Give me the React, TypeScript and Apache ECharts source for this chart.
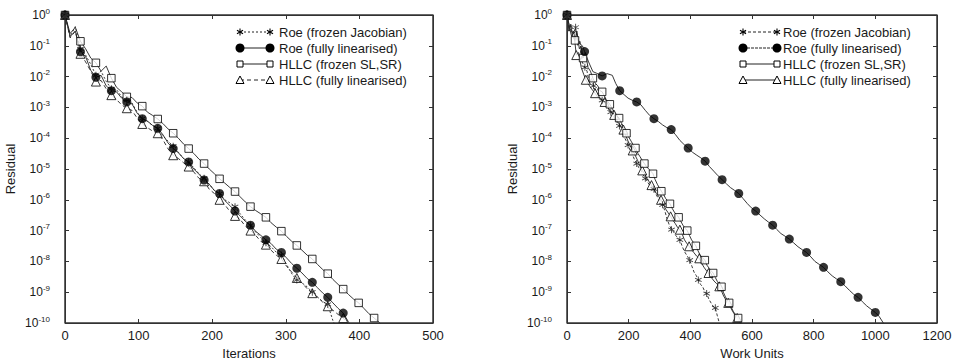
import React, { useEffect, useRef } from "react";
import * as echarts from "echarts";

// ---------- data ----------
const leftIter = [0, 7, 14, 21, 28, 35, 42, 49, 56, 63, 70, 77, 84, 91, 98, 105, 112, 119, 126, 133, 140, 147, 154, 161, 168, 175, 182, 189, 196, 203, 210, 217, 224, 231, 238, 245, 252, 259, 266, 273, 280, 287, 294, 301, 308, 315, 322, 329, 336, 343, 350, 357, 364, 371, 378, 385, 392, 399, 406, 413, 420, 427, 434];
const leftMarkerIter = [0, 21, 42, 63, 84, 105, 126, 147, 168, 189, 210, 231, 252, 273, 294, 315, 336, 357, 378, 399, 420];

const leftRoeFrozen = [1, 0.2, 0.42, 8e-2, 5e-2, 2.5e-2, 1.1e-2, 1.5e-2, 7e-3, 4e-3, 3.8e-3, 2.2e-3, 1.7e-3, 1.4e-3, 7e-4, 4.3e-4, 3.5e-4, 2.6e-4, 2.1e-4, 1.2e-4, 8e-5, 5.5e-5, 3.5e-5, 2.2e-5, 1.7e-5, 1.1e-5, 7e-6, 5e-6, 3.2e-6, 2e-6, 1.6e-6, 1e-6, 8e-7, 6e-7, 3.5e-7, 2.2e-7, 1.5e-7, 9e-8, 6e-8, 4e-8, 3e-8, 2e-8, 1.6e-8, 8e-9, 4e-9, 2.5e-9, 2e-9, 1.5e-9, 1e-9, 7e-10, 5e-10, 4e-10, 1.2e-10, 5e-11];
const leftRoeFull = [1, 0.2, 0.3, 6.4e-2, 4.5e-2, 1.6e-2, 9.5e-3, 1.1e-2, 5e-3, 3.5e-3, 3.2e-3, 2e-3, 1.5e-3, 1.3e-3, 6.5e-4, 4.3e-4, 3.6e-4, 2.6e-4, 2.1e-4, 1.3e-4, 7e-5, 4.6e-5, 3.4e-5, 2.2e-5, 1.7e-5, 1e-5, 6.8e-6, 4.4e-6, 3.2e-6, 2e-6, 1.6e-6, 9.5e-7, 6.5e-7, 4.3e-7, 3e-7, 2e-7, 1.5e-7, 9.5e-8, 7e-8, 5e-8, 3.8e-8, 2.5e-8, 1.95e-8, 1.3e-8, 8.5e-9, 6e-9, 4.2e-9, 2.8e-9, 2.1e-9, 1.4e-9, 9.5e-10, 6.8e-10, 4.5e-10, 3e-10, 2.1e-10, 1.1e-10, 6e-11];
const leftHllcFrozen = [1, 0.25, 0.4, 0.14, 8e-2, 4e-2, 2.8e-2, 1.5e-2, 2.2e-2, 8.9e-3, 4.5e-3, 3.2e-3, 2.2e-3, 2.1e-3, 1.4e-3, 1.1e-3, 7e-4, 5.5e-4, 4.2e-4, 3e-4, 2e-4, 1.45e-4, 1e-4, 6.5e-5, 4.6e-5, 3.2e-5, 2.1e-5, 1.5e-5, 1e-5, 7e-6, 4.8e-6, 3.5e-6, 2.5e-6, 1.85e-6, 1.25e-6, 8.5e-7, 6e-7, 4.5e-7, 3.5e-7, 2.7e-7, 1.8e-7, 1.3e-7, 9.6e-8, 6.5e-8, 4.5e-8, 3.3e-8, 2.3e-8, 1.6e-8, 1.2e-8, 8e-9, 5.5e-9, 4e-9, 2.6e-9, 1.8e-9, 1.26e-9, 8.5e-10, 6e-10, 4.5e-10, 3e-10, 2e-10, 1.45e-10, 1.05e-10, 7e-11];
const leftHllcFull = [1, 0.18, 0.3, 5.5e-2, 3e-2, 1.5e-2, 6.9e-3, 7.5e-3, 4e-3, 2.5e-3, 1.8e-3, 1.2e-3, 9.4e-4, 8e-4, 4.5e-4, 2.9e-4, 2.2e-4, 1.7e-4, 1.45e-4, 9e-5, 4.5e-5, 2.8e-5, 2.2e-5, 1.6e-5, 1.2e-5, 8e-6, 5e-6, 4e-6, 2.2e-6, 1.6e-6, 1e-6, 7e-7, 4.2e-7, 3e-7, 2.3e-7, 1.4e-7, 1e-7, 7e-8, 4.5e-8, 3.5e-8, 2.3e-8, 1.6e-8, 1.2e-8, 7e-9, 4.5e-9, 2.9e-9, 2e-9, 1.3e-9, 9.3e-10, 7e-10, 4.8e-10, 3.5e-10, 2.6e-10, 1.9e-10, 1.45e-10, 9e-11];

const rightRoeFrozen: [number, number][] = [[0, 1], [7, 0.3], [14, 0.5], [21, 0.25], [28, 0.4], [35, 0.1], [42, 0.15], [49, 3e-2], [58, 2e-2], [65, 1.5e-2], [72, 6e-3], [79, 9e-3], [86, 5e-3], [93, 3.5e-3], [100, 4e-3], [107, 2.2e-3], [114, 1.7e-3], [121, 1.4e-3], [128, 1.5e-3], [135, 9e-4], [142, 7e-4], [149, 6e-4], [156, 4e-4], [163, 3.2e-4], [170, 2.5e-4], [177, 1.8e-4], [184, 1.2e-4], [191, 8.5e-5], [198, 6e-5], [205, 4e-5], [212, 3e-5], [219, 2e-5], [226, 1.5e-5], [233, 1.1e-5], [240, 9e-6], [247, 6.5e-6], [254, 5e-6], [261, 3.8e-6], [268, 3e-6], [275, 2.8e-6], [282, 2.2e-6], [289, 1.5e-6], [296, 1.1e-6], [303, 9e-7], [310, 6.9e-7], [317, 4.5e-7], [324, 2.5e-7], [331, 1.6e-7], [339, 1.07e-7], [346, 9e-8], [352, 7e-8], [359, 6e-8], [366, 5e-8], [374, 3e-8], [382, 2e-8], [390, 1.5e-8], [398, 1.1e-8], [405, 7e-9], [412, 4.5e-9], [419, 3.5e-9], [426, 2.5e-9], [433, 1.8e-9], [440, 1.5e-9], [446, 1.1e-9], [453, 9e-10], [460, 6e-10], [467, 4.5e-10], [474, 3.5e-10], [481, 3.1e-10], [487, 1.8e-10], [494, 1e-10], [500, 6e-11]];
const rightRoeFrozenMarks = [0, 28, 58, 86, 114, 142, 170, 198, 226, 254, 282, 310, 339, 366, 398, 426, 453, 481];

const rightRoeFull: [number, number][] = [[0, 1], [10, 0.35], [20, 0.25], [30, 0.3], [40, 0.12], [50, 0.1], [57, 6.5e-2], [70, 3e-2], [84, 1.45e-2], [95, 1.3e-2], [114, 1.05e-2], [130, 1.25e-2], [147, 1.1e-2], [158, 6e-3], [171, 3.5e-3], [185, 2.6e-3], [198, 2e-3], [212, 1.7e-3], [226, 1.5e-3], [240, 1.2e-3], [254, 8e-4], [268, 5.5e-4], [282, 4.3e-4], [296, 3.5e-4], [310, 2.7e-4], [324, 2.2e-4], [338, 1.9e-4], [352, 1.3e-4], [366, 8.5e-5], [380, 6.2e-5], [393, 4.8e-5], [407, 3.5e-5], [421, 2.8e-5], [434, 2.3e-5], [448, 1.8e-5], [462, 1.2e-5], [476, 8.5e-6], [490, 6e-6], [503, 4.5e-6], [517, 3.3e-6], [530, 2.5e-6], [544, 2e-6], [557, 1.6e-6], [571, 1.1e-6], [585, 7.5e-7], [598, 5.5e-7], [612, 4.3e-7], [626, 3.2e-7], [640, 2.4e-7], [653, 1.9e-7], [667, 1.5e-7], [680, 1.1e-7], [694, 8e-8], [708, 6.5e-8], [721, 5.3e-8], [735, 4e-8], [749, 3e-8], [763, 2.4e-8], [777, 1.95e-8], [791, 1.4e-8], [804, 1e-8], [818, 8e-9], [832, 6.4e-9], [846, 4.6e-9], [860, 3.4e-9], [874, 2.7e-9], [888, 2.2e-9], [902, 1.6e-9], [916, 1.15e-9], [930, 8.5e-10], [944, 6.8e-10], [958, 4.9e-10], [972, 3.6e-10], [986, 2.8e-10], [1000, 2.2e-10], [1013, 1.6e-10], [1026, 1e-10], [1040, 6e-11]];
const rightRoeFullMarks = [0, 57, 114, 171, 226, 282, 338, 393, 448, 503, 557, 612, 667, 721, 777, 832, 888, 944, 1000];

const rightHllcFrozen: [number, number][] = [[0, 1], [6, 0.3], [12, 0.5], [18, 0.2], [26, 0.15], [32, 0.3], [40, 8e-2], [46, 0.1], [52, 4e-2], [60, 6e-2], [68, 2e-2], [76, 1.5e-2], [84, 8.9e-3], [92, 6e-3], [100, 5e-3], [107, 3.5e-3], [114, 3.2e-3], [120, 2.5e-3], [127, 1.8e-3], [133, 1.5e-3], [139, 1.26e-3], [147, 9e-4], [154, 7e-4], [161, 5.5e-4], [169, 4.5e-4], [177, 3e-4], [185, 2e-4], [193, 1.45e-4], [200, 1.1e-4], [208, 8e-5], [215, 6e-5], [222, 4.8e-5], [230, 3.2e-5], [237, 2.5e-5], [244, 1.9e-5], [251, 1.5e-5], [258, 1.2e-5], [265, 1e-5], [272, 8.5e-6], [279, 7e-6], [286, 4.5e-6], [293, 3.2e-6], [299, 2.5e-6], [306, 1.9e-6], [313, 1.5e-6], [320, 1.1e-6], [327, 9e-7], [334, 7.4e-7], [341, 5.3e-7], [348, 4e-7], [355, 3.3e-7], [362, 2.7e-7], [369, 2e-7], [376, 1.5e-7], [383, 1.2e-7], [390, 1e-7], [397, 7e-8], [404, 5e-8], [411, 4e-8], [418, 3.2e-8], [425, 2.2e-8], [432, 1.6e-8], [440, 1.3e-8], [447, 1.1e-8], [454, 7.5e-9], [461, 6e-9], [467, 5e-9], [474, 4.2e-9], [481, 3e-9], [488, 2.2e-9], [494, 1.8e-9], [501, 1.5e-9], [507, 1e-9], [514, 7e-10], [520, 5.5e-10], [526, 4.5e-10], [533, 3.2e-10], [540, 2.3e-10], [548, 1.8e-10], [555, 1.45e-10], [563, 1e-10], [568, 7e-11]];
const rightHllcFrozenMarks = [0, 26, 52, 84, 114, 139, 169, 193, 222, 251, 279, 306, 334, 362, 390, 418, 447, 474, 501, 526, 555];

const rightHllcFull: [number, number][] = [[0, 1], [8, 0.4], [15, 0.2], [22, 0.3], [30, 5e-2], [38, 6e-2], [46, 2e-2], [54, 1.2e-2], [61, 7.9e-3], [68, 6e-3], [76, 4.5e-3], [84, 3.5e-3], [91, 2.9e-3], [99, 2.2e-3], [107, 2e-3], [114, 1.7e-3], [122, 1.5e-3], [130, 1.1e-3], [138, 8e-4], [145, 7e-4], [153, 5.7e-4], [160, 4e-4], [168, 3e-4], [175, 2.4e-4], [183, 1.9e-4], [191, 1.2e-4], [198, 8e-5], [206, 5.5e-5], [213, 4e-5], [221, 2.8e-5], [229, 1.9e-5], [236, 1.3e-5], [244, 9e-6], [252, 7e-6], [259, 5e-6], [267, 3.8e-6], [274, 3e-6], [282, 2.2e-6], [290, 1.6e-6], [297, 1.3e-6], [305, 1e-6], [313, 7e-7], [320, 5e-7], [328, 3.8e-7], [336, 2.9e-7], [343, 2.2e-7], [351, 1.7e-7], [358, 1.3e-7], [366, 1.07e-7], [374, 7.5e-8], [381, 5e-8], [389, 3.8e-8], [396, 3.1e-8], [404, 2.4e-8], [412, 1.9e-8], [420, 1.5e-8], [429, 1.26e-8], [436, 9e-9], [444, 6.5e-9], [451, 5.2e-9], [459, 4.2e-9], [468, 3e-9], [477, 2.3e-9], [485, 1.9e-9], [494, 1.55e-9], [501, 1.1e-9], [508, 7.5e-10], [516, 5.5e-10], [523, 4.5e-10], [530, 3.3e-10], [537, 2.4e-10], [545, 1.8e-10], [552, 1.45e-10], [561, 1e-10], [567, 7e-11]];
const rightHllcFullMarks = [0, 30, 61, 91, 122, 153, 183, 213, 244, 274, 305, 336, 366, 396, 429, 459, 494, 523, 552];

const seriesNames = ["Roe (frozen Jacobian)", "Roe (fully linearised)", "HLLC (frozen SL,SR)", "HLLC (fully linearised)"];
const leftXTicks = { min: 0, max: 500, interval: 100 };
const rightXTicks = { min: 0, max: 1200, interval: 200 };

// ---------- layout & styles ----------
const GRIDS = [
  { left: 65, top: 15, width: 368, height: 308 },
  { left: 567, top: 15, width: 370, height: 308 },
];
const FONT = "'Liberation Sans', Arial, Helvetica, sans-serif";
const INK = "#1a1a1a";
const AXIS = "#333333";
const STAR = "path://M-0.6,-5L0.6,-5L0.6,5L-0.6,5Z M4.03,3.02L-4.63,-1.98L-4.03,-3.02L4.63,1.98Z M-4.63,1.98L4.03,-3.02L4.63,-1.98L-4.03,3.02Z";

type Mk = "star" | "circle" | "square" | "triangle";
const markerStyle: Record<Mk, any> = {
  star: { symbol: STAR, symbolSize: 7, itemStyle: { color: "#111" } },
  circle: { symbol: "circle", symbolSize: 9, itemStyle: { color: "#000" } },
  square: { symbol: "rect", symbolSize: 7.5, itemStyle: { color: "#fff", borderColor: "#000", borderWidth: 1 } },
  triangle: { symbol: "triangle", symbolSize: 9, itemStyle: { color: "#fff", borderColor: "#000", borderWidth: 1 } },
};

function zip(xs: number[], ys: number[]): [number, number][] {
  return ys.map((y, i) => [xs[i], y]);
}

function curveSeries(name: string, pts: [number, number][], marks: number[], mk: Mk, dash: any, axis: number) {
  const mset = new Set(marks);
  return [
    {
      name,
      type: "line",
      xAxisIndex: axis,
      yAxisIndex: axis,
      data: pts,
      symbol: "none",
      showSymbol: false,
      lineStyle: { color: "#222", width: 0.9, type: dash },
      z: 2,
      silent: true,
    },
    {
      name: name + " markers",
      type: "scatter",
      xAxisIndex: axis,
      yAxisIndex: axis,
      data: pts.filter((p) => mset.has(p[0])),
      ...markerStyle[mk],
      z: 3,
      silent: true,
    },
  ];
}

function legendMarker(mk: Mk, cx: number, cy: number): any {
  if (mk === "circle") return { type: "circle", shape: { cx, cy, r: 4.5 }, style: { fill: "#000" } };
  if (mk === "square") return { type: "rect", shape: { x: cx - 3, y: cy - 3, width: 6, height: 6 }, style: { fill: "#fff", stroke: "#000", lineWidth: 1 } };
  if (mk === "triangle")
    return { type: "polygon", shape: { points: [[cx, cy - 4], [cx + 4, cy + 3.5], [cx - 4, cy + 3.5]] }, style: { fill: "#fff", stroke: "#000", lineWidth: 1 } };
  const r = 3.5;
  return {
    type: "group",
    children: [
      { type: "line", shape: { x1: cx, y1: cy - r, x2: cx, y2: cy + r }, style: { stroke: "#000", lineWidth: 1.1 } },
      { type: "line", shape: { x1: cx - r * 0.87, y1: cy - r * 0.5, x2: cx + r * 0.87, y2: cy + r * 0.5 }, style: { stroke: "#000", lineWidth: 1.1 } },
      { type: "line", shape: { x1: cx - r * 0.87, y1: cy + r * 0.5, x2: cx + r * 0.87, y2: cy - r * 0.5 }, style: { stroke: "#000", lineWidth: 1.1 } },
    ],
  };
}

function legendGraphic(x1: number, x2: number, tx: number, y0: number, items: { mk: Mk; dash: number[] | null }[]) {
  const out: any[] = [];
  items.forEach((it, i) => {
    const y = y0 + i * 16;
    out.push({ type: "line", shape: { x1, y1: y, x2, y2: y }, style: { stroke: "#222", lineWidth: 1, lineDash: it.dash || undefined } });
    out.push(legendMarker(it.mk, x1, y));
    out.push(legendMarker(it.mk, x2, y));
    out.push({ type: "text", style: { text: seriesNames[i], x: tx, y, fontSize: 13, fontFamily: FONT, fill: INK, verticalAlign: "middle", align: "left" } });
  });
  return out;
}

function frameGraphic(g: { left: number; top: number; width: number; height: number }) {
  return {
    type: "rect",
    z: 100,
    silent: true,
    shape: { x: g.left, y: g.top, width: g.width, height: g.height },
    style: { fill: "none", stroke: AXIS, lineWidth: 1 },
  };
}

function yAxes(grid: number) {
  const common = {
    type: "log",
    logBase: 10,
    gridIndex: grid,
    min: 1e-10,
    max: 1,
    interval: 1,
    splitLine: { show: false },
    minorTick: { show: false },
    axisLine: { show: true, onZero: false, lineStyle: { color: AXIS, width: 1 } },
    axisTick: { show: true, inside: true, length: 4, lineStyle: { color: AXIS } },
  };
  return [
    {
      ...common,
      position: "left",
      name: "Residual",
      nameLocation: "middle",
      nameGap: 48,
      nameTextStyle: { fontSize: 13, fontFamily: FONT, color: INK },
      axisLabel: {
        margin: 15,
        interval: 0,
        fontFamily: FONT,
        color: INK,
        formatter: (v: number) => "{b|10}{e|" + Math.round(Math.log10(v)) + "}",
        rich: {
          b: { fontSize: 12, lineHeight: 16, fontFamily: FONT, color: INK },
          e: { fontSize: 8, lineHeight: 9, verticalAlign: "top", fontFamily: FONT, color: INK },
        },
      },
    },
    { ...common, position: "right", axisLabel: { show: false } },
  ];
}

function xAxes(grid: number, ticks: { min: number; max: number; interval: number }, name: string) {
  const common = {
    type: "value",
    gridIndex: grid,
    ...ticks,
    splitLine: { show: false },
    axisLine: { show: true, onZero: false, lineStyle: { color: AXIS, width: 1 } },
    axisTick: { show: true, inside: true, length: 4, lineStyle: { color: AXIS } },
  };
  return [
    {
      ...common,
      position: "bottom",
      name,
      nameLocation: "middle",
      nameGap: 18,
      nameTextStyle: { fontSize: 13, fontFamily: FONT, color: INK },
      axisLabel: { fontSize: 13, fontFamily: FONT, color: INK, margin: 6, formatter: (v: number) => String(v) },
    },
    { ...common, position: "top", axisLabel: { show: false } },
  ];
}

export default function App() {
  const ref = useRef<HTMLDivElement>(null);
  useEffect(() => {
    if (!ref.current) return;
    const chart = echarts.init(ref.current, undefined, { renderer: "svg" });
    const lx = xAxes(0, leftXTicks, "Iterations");
    const rx = xAxes(1, rightXTicks, "Work Units");
    const ly = yAxes(0);
    const ry = yAxes(1);
    const series = [
      ...curveSeries("L " + seriesNames[3], zip(leftIter, leftHllcFull), leftMarkerIter, "triangle", [4, 3], 0),
      ...curveSeries("L " + seriesNames[2], zip(leftIter, leftHllcFrozen), leftMarkerIter, "square", "solid", 0),
      ...curveSeries("L " + seriesNames[0], zip(leftIter, leftRoeFrozen), leftMarkerIter, "star", [2, 2], 0),
      ...curveSeries("L " + seriesNames[1], zip(leftIter, leftRoeFull), leftMarkerIter, "circle", "solid", 0),
      ...curveSeries("R " + seriesNames[3], rightHllcFull, rightHllcFullMarks, "triangle", "solid", 2),
      ...curveSeries("R " + seriesNames[2], rightHllcFrozen, rightHllcFrozenMarks, "square", "solid", 2),
      ...curveSeries("R " + seriesNames[0], rightRoeFrozen, rightRoeFrozenMarks, "star", [3, 2], 2),
      ...curveSeries("R " + seriesNames[1], rightRoeFull, rightRoeFullMarks, "circle", "solid", 2),
    ];
    chart.setOption({
      animation: false,
      backgroundColor: "#fff",
      textStyle: { fontFamily: FONT },
      grid: GRIDS.map((g) => ({ ...g, containLabel: false, outerBoundsMode: "none", show: true, borderColor: AXIS, borderWidth: 1 })),
      xAxis: [lx[0], lx[1], rx[0], rx[1]],
      yAxis: [ly[0], ly[1], ry[0], ry[1]],
      series,
      graphic: [
        frameGraphic(GRIDS[0]),
        frameGraphic(GRIDS[1]),
        ...legendGraphic(240, 270, 279, 32, [
          { mk: "star", dash: [2, 2] },
          { mk: "circle", dash: null },
          { mk: "square", dash: null },
          { mk: "triangle", dash: [4, 3] },
        ]),
        ...legendGraphic(743, 777, 783, 32, [
          { mk: "star", dash: [3, 2] },
          { mk: "circle", dash: [3, 1] },
          { mk: "square", dash: null },
          { mk: "triangle", dash: null },
        ]),
      ],
    });
    return () => chart.dispose();
  }, []);
  return <div ref={ref} style={{ position: "absolute", left: 0, top: 0, width: 961, height: 360 }} />;
}
